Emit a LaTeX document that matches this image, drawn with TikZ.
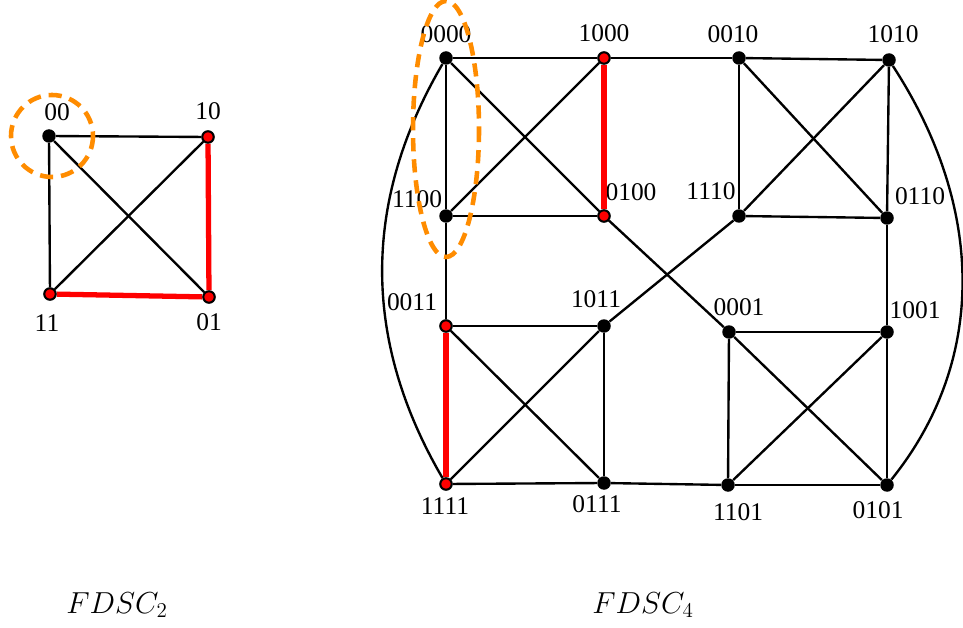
\documentclass[tikz,border=0pt]{standalone}
\usepackage{fontspec}
\setmainfont{Liberation Serif}
\begin{document}
\begin{tikzpicture}[x=0.02cm,y=-0.02cm,
  vtx/.style={circle,fill=black,inner sep=0pt,minimum size=0.27cm},
  rvtx/.style={circle,fill=red,draw=black,line width=1.2pt,inner sep=0pt,minimum size=0.23cm},
  edge/.style={line width=1.35pt},
  redge/.style={red,line width=3pt},
  lbl/.style={font=\fontsize{14.5}{16}\selectfont,inner sep=0pt},
  captxt/.style={font=\fontsize{17}{20}\selectfont,inner sep=0pt},
  halo/.style={draw=orange!90!yellow,line width=2.6pt,dash pattern=on 7.5pt off 4.5pt}]
\useasboundingbox (0,0) rectangle (963,628);
% left graph nodes
\node[vtx]  (a00) at (49,136) {};
\node[rvtx] (a10) at (208,137) {};
\node[rvtx] (a11) at (50,294) {};
\node[rvtx] (a01) at (209,297) {};
\node[lbl] (l00) at (57,112) {00};
\node[lbl] (l10) at (208,111) {10};
\node[lbl] (l11) at (47,323) {11};
\node[lbl] (l01) at (209,322) {01};
\draw[edge] (a00) -- (a10);
\draw[edge] (a00) -- (a11);
\draw[edge] (a00) -- (a01);
\draw[edge] (a10) -- (a11);
\draw[redge] (a10) -- (a01);
\draw[redge] (a11) -- (a01);
% right graph nodes
\node[vtx]  (b0000) at (446,58) {};
\node[rvtx] (b1000) at (604,58) {};
\node[vtx]  (b0010) at (739,58) {};
\node[vtx]  (b1010) at (889,60) {};
\node[vtx]  (b1100) at (446,216) {};
\node[rvtx] (b0100) at (604,216) {};
\node[vtx]  (b1110) at (739,216) {};
\node[vtx]  (b0110) at (887,218) {};
\node[rvtx] (b0011) at (446,326) {};
\node[vtx]  (b1011) at (604,326) {};
\node[vtx]  (b0001) at (729,332) {};
\node[vtx]  (b1001) at (887,332) {};
\node[rvtx] (b1111) at (446,484) {};
\node[vtx]  (b0111) at (604,483) {};
\node[vtx]  (b1101) at (728,485) {};
\node[vtx]  (b0101) at (887,485) {};
% labels
\node[lbl] (m0000) at (446,34) {0000};
\node[lbl] (m1000) at (604,33) {1000};
\node[lbl] (m0010) at (733,34) {0010};
\node[lbl] (m1010) at (893,34) {1010};
\node[lbl] (m1100) at (417,199) {1100};
\node[lbl] (m0100) at (631,192) {0100};
\node[lbl] (m1110) at (711,191) {1110};
\node[lbl] (m0110) at (920,196) {0110};
\node[lbl] (m0011) at (412,302) {0011};
\node[lbl] (m1011) at (596,299) {1011};
\node[lbl] (m0001) at (739,307) {0001};
\node[lbl] (m1001) at (915,310) {1001};
\node[lbl] (m1111) at (445,506) {1111};
\node[lbl] (m0111) at (597,504) {0111};
\node[lbl] (m1101) at (738,512) {1101};
\node[lbl] (m0101) at (878,510) {0101};
% edges
\draw[edge] (b0000) -- (b1000);
\draw[edge] (b1000) -- (b0010);
\draw[edge] (b0010) -- (b1010);
\draw[edge] (b0000) -- (b1100);
\draw[edge] (b0000) -- (b0100);
\draw[edge] (b1000) -- (b1100);
\draw[redge] (b1000) -- (b0100);
\draw[edge] (b1100) -- (b0100);
\draw[edge] (b0010) -- (b1110);
\draw[edge] (b0010) -- (b0110);
\draw[edge] (b1010) -- (b1110);
\draw[edge] (b1010) -- (b0110);
\draw[edge] (b1110) -- (b0110);
\draw[edge] (b0100) -- (b0001);
\draw[edge] (b1011) -- (b1110);
\draw[edge] (b1100) -- (b0011);
\draw[edge] (b0110) -- (b1001);
\draw[edge] (b0011) -- (b1011);
\draw[redge] (b0011) -- (b1111);
\draw[edge] (b0011) -- (b0111);
\draw[edge] (b1011) -- (b1111);
\draw[edge] (b1011) -- (b0111);
\draw[edge] (b1111) -- (b0111);
\draw[edge] (b0111) -- (b1101);
\draw[edge] (b0001) -- (b1001);
\draw[edge] (b0001) -- (b1101);
\draw[edge] (b0001) -- (b0101);
\draw[edge] (b1001) -- (b1101);
\draw[edge] (b1001) -- (b0101);
\draw[edge] (b1101) -- (b0101);
\draw[edge] (b0000) .. controls (362,202) and (362,340) .. (b1111);
\draw[edge] (b1010) .. controls (986,209) and (986,362) .. (b0101);
% orange halos
\draw[halo] (52,136) ellipse [x radius=41,y radius=41];
\draw[halo] (446,129) ellipse [x radius=33,y radius=128];
% captions
\node[captxt] (c2) at (117,605) {$FDSC_2$};
\node[captxt] (c4) at (643,605) {$FDSC_4$};
\end{tikzpicture}
\end{document}
